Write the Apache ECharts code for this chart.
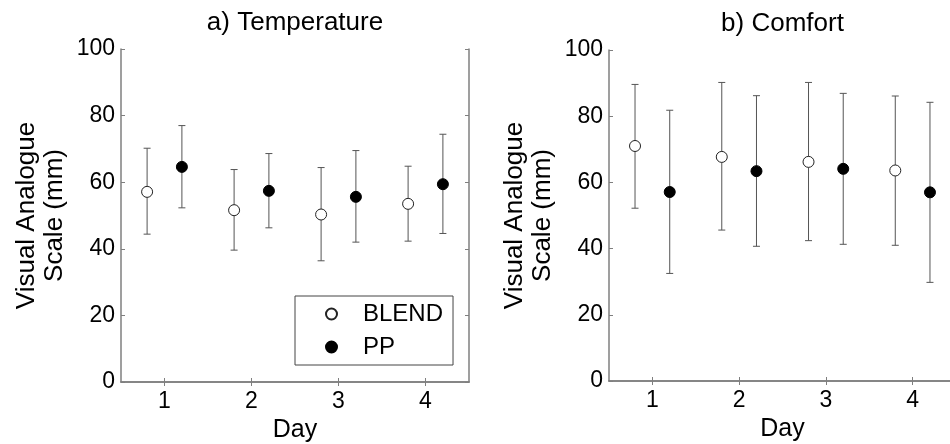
<!DOCTYPE html>
<html><head><meta charset="utf-8">
<script src="https://cdn.jsdelivr.net/npm/echarts@6/dist/echarts.min.js"></script>
<style>html,body{margin:0;background:#fff}#c{width:950px;height:444px}</style>
</head><body><div id="c"></div>
<script>
// ---- data ----
const days = [1, 2, 3, 4];
const dayTicks = [1, 2, 3, 4];
const yTicks = [0, 20, 40, 60, 80, 100];
const seriesNames = ['BLEND', 'PP'];
const panelTitles = ['a) Temperature', 'b) Comfort'];
const xTitle = 'Day';
const yTitle = 'Visual Analogue\nScale (mm)';

const tempBlendMean = [57.1, 51.6, 50.3, 53.5];
const tempBlendLow  = [44.4, 39.6, 36.4, 42.3];
const tempBlendHigh = [70.2, 63.8, 64.4, 64.8];
const tempPPMean    = [64.6, 57.4, 55.6, 59.4];
const tempPPLow     = [52.3, 46.3, 42.0, 44.6];
const tempPPHigh    = [77.0, 68.6, 69.5, 74.4];

const comfBlendMean = [71.0, 67.7, 66.2, 63.6];
const comfBlendLow  = [52.2, 45.6, 42.4, 41.0];
const comfBlendHigh = [89.6, 90.2, 90.2, 86.1];
const comfPPMean    = [57.1, 63.4, 64.1, 57.0];
const comfPPLow     = [32.5, 40.7, 41.3, 29.8];
const comfPPHigh    = [81.8, 86.2, 86.9, 84.2];

const dodge = 0.2; // horizontal group offset

// ---- chart ----
const FONT = 'Liberation Sans, Arial, sans-serif';
const AX = '#7f7f7f';
const FS = 23;

function errRender(params, api) {
  const x = api.value(0), lo = api.value(1), hi = api.value(2);
  const a = api.coord([x, lo]), b = api.coord([x, hi]);
  const w = 3.5;
  const st = { stroke: '#555', lineWidth: 1 };
  return { type: 'group', children: [
    { type: 'line', shape: { x1: a[0], y1: a[1], x2: b[0], y2: b[1] }, style: st },
    { type: 'line', shape: { x1: a[0] - w, y1: a[1], x2: a[0] + w, y2: a[1] }, style: st },
    { type: 'line', shape: { x1: b[0] - w, y1: b[1], x2: b[0] + w, y2: b[1] }, style: st }
  ]};
}

const grids = [
  { left: 121, top: 49, width: 348, height: 333, outerBoundsMode: 'none', containLabel: false },
  { left: 609, top: 50, width: 347, height: 331, outerBoundsMode: 'none', containLabel: false }
];

const xAxes = [], yAxes = [], series = [];
grids.forEach((g, i) => {
  xAxes.push({
    gridIndex: i, type: 'value', min: 0.5, max: 4.5, position: 'bottom',
    name: xTitle, nameLocation: 'middle', nameGap: 36,
    nameTextStyle: { fontSize: 25, color: '#000', fontFamily: FONT },
    axisLine: { show: true, lineStyle: { color: AX, width: 1.5 } },
    axisTick: { show: true, inside: true, length: 4, customValues: dayTicks, lineStyle: { color: AX } },
    axisLabel: { customValues: dayTicks, fontSize: FS, color: '#000', fontFamily: FONT, margin: 8 },
    splitLine: { show: false }
  });
  xAxes.push({
    gridIndex: i, type: 'value', min: 0.5, max: 4.5, position: 'top',
    name: panelTitles[i], nameLocation: 'middle', nameGap: 13,
    nameTextStyle: { fontSize: 26, color: '#000', fontFamily: FONT },
    axisLine: { show: true, lineStyle: { color: AX, width: 1.5 } },
    axisTick: { show: true, inside: true, length: 4, customValues: dayTicks, lineStyle: { color: AX } },
    axisLabel: { show: false },
    splitLine: { show: false }
  });
  yAxes.push({
    gridIndex: i, type: 'value', min: 0, max: 100, interval: 20, position: 'left',
    name: yTitle, nameLocation: 'middle', nameGap: 52,
    nameTextStyle: { fontSize: 26, color: '#000', fontFamily: FONT, lineHeight: 28 },
    axisLine: { show: true, lineStyle: { color: AX, width: 1.5 } },
    axisTick: { show: true, inside: true, length: 4, lineStyle: { color: AX } },
    axisLabel: { fontSize: FS, color: '#000', fontFamily: FONT, margin: 6 },
    splitLine: { show: false }
  });
  yAxes.push({
    gridIndex: i, type: 'value', min: 0, max: 100, interval: 20, position: 'right',
    axisLine: { show: true, lineStyle: { color: AX, width: 1.5 } },
    axisTick: { show: true, inside: true, length: 4, lineStyle: { color: AX } },
    axisLabel: { show: false },
    splitLine: { show: false }
  });
});

const panels = [
  [[tempBlendMean, tempBlendLow, tempBlendHigh], [tempPPMean, tempPPLow, tempPPHigh]],
  [[comfBlendMean, comfBlendLow, comfBlendHigh], [comfPPMean, comfPPLow, comfPPHigh]]
];

panels.forEach((p, i) => {
  p.forEach((s, k) => {
    const off = k === 0 ? -dodge : dodge;
    const [mean, lo, hi] = s;
    series.push({
      type: 'custom', xAxisIndex: i * 2, yAxisIndex: i * 2, silent: true,
      renderItem: errRender, encode: { x: 0, y: [1, 2] },
      data: days.map((d, j) => [d + off, lo[j], hi[j]]), z: 1
    });
    series.push({
      type: 'scatter', name: seriesNames[k], xAxisIndex: i * 2, yAxisIndex: i * 2,
      symbol: 'circle', symbolSize: 11,
      itemStyle: k === 0 ? { color: '#fff', borderColor: '#222', borderWidth: 1, opacity: 1 }
                         : { color: '#000', borderColor: '#000', borderWidth: 1, opacity: 1 },
      data: days.map((d, j) => [d + off, mean[j]]), z: 3
    });
  });
});

const chart = echarts.init(document.getElementById('c'), null, { renderer: 'canvas' });
chart.setOption({
  animation: false,
  backgroundColor: '#fff',
  grid: grids,
  xAxis: xAxes,
  yAxis: yAxes,
  legend: {
    data: seriesNames, orient: 'vertical', left: 295, top: 296,
    padding: [6, 10, 6, 30], itemGap: 9, itemWidth: 11, itemHeight: 11,
    borderColor: '#444', borderWidth: 1, backgroundColor: '#fff',
    textStyle: { fontSize: 24, color: '#000', fontFamily: FONT, padding: [0, 0, 0, 21], lineHeight: 24 },
    selectedMode: false
  },
  series: series
});
</script>
</body></html>
